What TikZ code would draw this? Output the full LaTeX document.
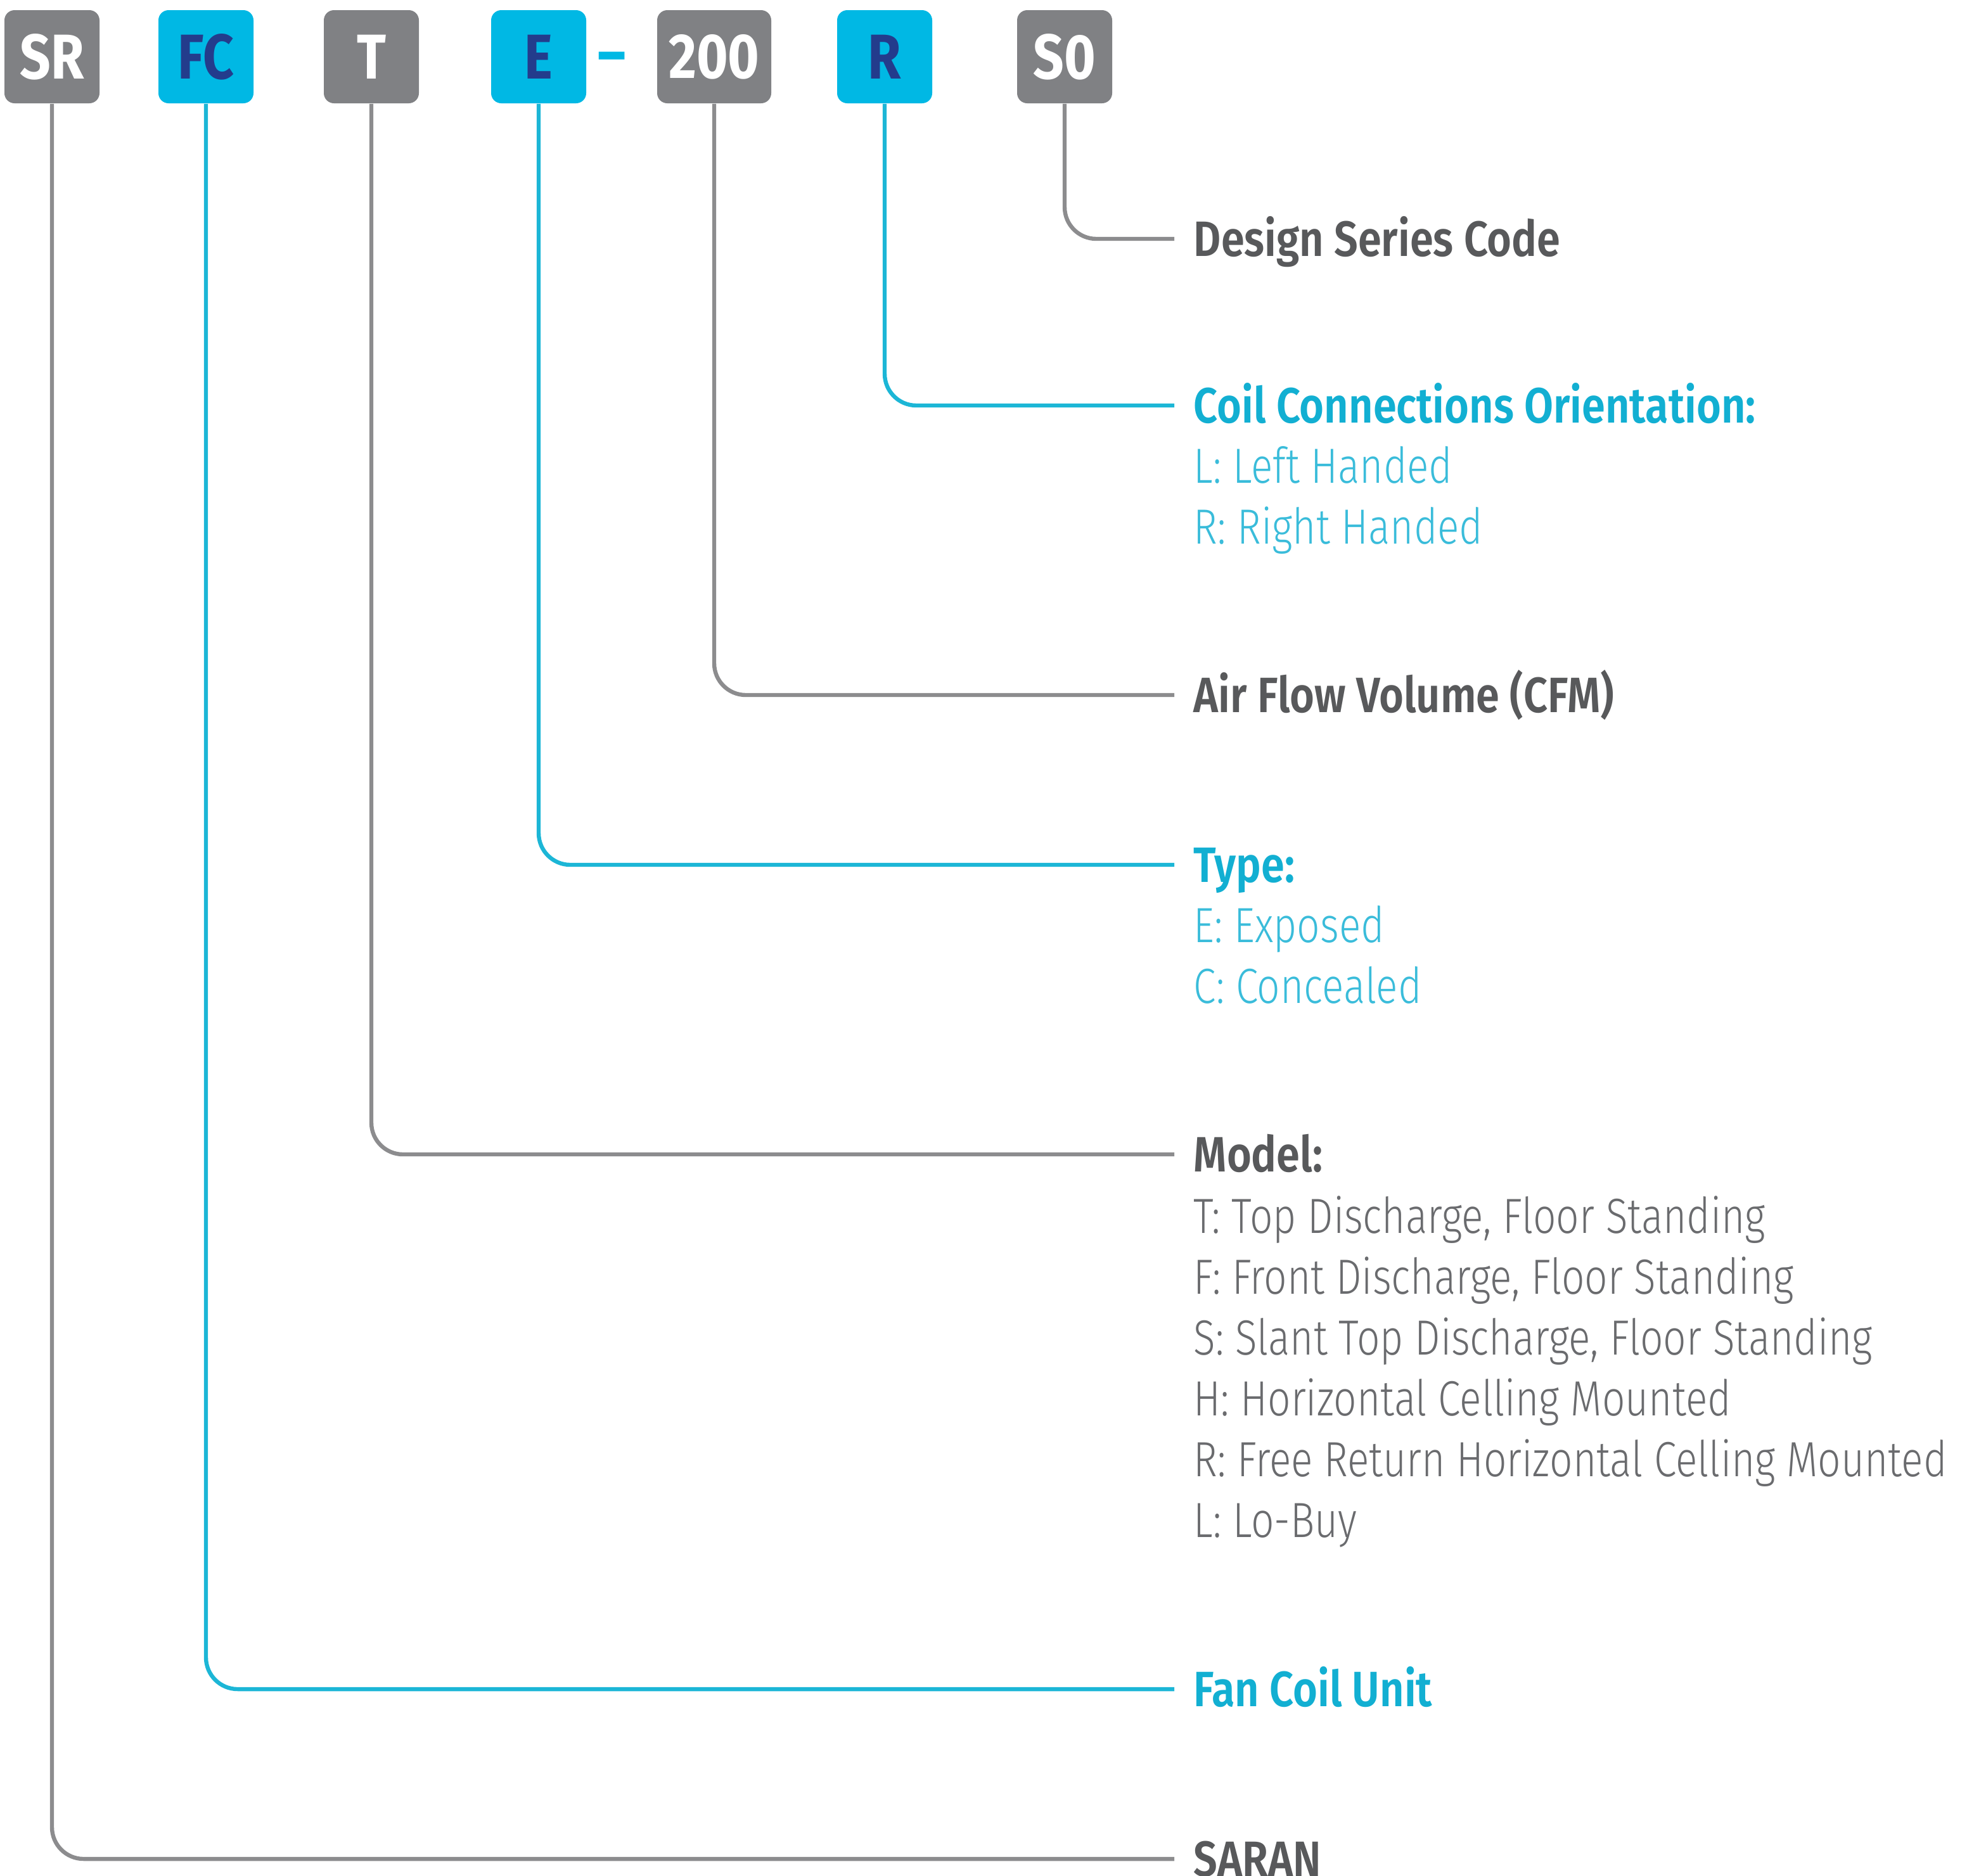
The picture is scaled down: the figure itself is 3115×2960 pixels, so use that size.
\documentclass[tikz,border=0pt]{standalone}
\usepackage{fontspec}
\setmainfont[FakeStretch=0.85]{Fira Sans}
\newfontfamily\semib[FakeStretch=0.85]{Fira Sans SemiBold}
\newfontfamily\lightf[FakeStretch=0.82]{Fira Sans Light}
\definecolor{boxgray}{HTML}{808184}
\definecolor{boxcyan}{HTML}{00B8E4}
\definecolor{navy}{HTML}{233C8C}
\definecolor{linegray}{HTML}{8C8C8E}
\definecolor{linecyan}{HTML}{1CB6D6}
\definecolor{titlegray}{HTML}{58595B}
\definecolor{subgray}{HTML}{6A6B6E}
\definecolor{titlecyan}{HTML}{12AFD2}
\definecolor{subcyan}{HTML}{3ABCDA}
\tikzset{
  codebox/.style={rounded corners=4pt, minimum height=36.75pt, minimum width=37.5pt, inner sep=0pt,
    font=\fontsize{25}{30}\selectfont\bfseries},
  graybox/.style={codebox, fill=boxgray, text=white},
  cyanbox/.style={codebox, fill=boxcyan, text=navy},
  gline/.style={draw=linegray, line width=1.6pt, rounded corners=12.5pt},
  cline/.style={draw=linecyan, line width=1.6pt, rounded corners=12.5pt},
  ttl/.style={anchor=west, inner xsep=7.5pt, inner ysep=0pt, text height=13.5pt, text depth=0pt,
    font=\fontsize{19.6}{24}\semib},
  gttl/.style={ttl, text=titlegray},
  cttl/.style={ttl, text=titlecyan},
  sub/.style={anchor=base west, inner sep=0pt, font=\fontsize{19.5}{24}\lightf},
  gsub/.style={sub, text=subgray},
  csub/.style={sub, text=subcyan},
}
\begin{document}
\begin{tikzpicture}[x=0.25pt, y=-0.25pt]
\useasboundingbox (0,0) rectangle (3115,2960);
% code boxes
\node[graybox] (SR) at (82,89.5) {SR};
\node[cyanbox] (FC) at (325,89.5) {FC};
\node[graybox] (T) at (586,89.5) {T};
\node[cyanbox] (E) at (850,89.5) {E};
\node[text=boxcyan, inner sep=0pt, font=\fontsize{25}{30}\selectfont\bfseries] (dash) at (966,101) {–};
\node[graybox, minimum width=45pt] (V) at (1127,89.5) {200};
\node[cyanbox] (R) at (1396,89.5) {R};
\node[graybox] (S0) at (1680,89.5) {S0};
% titles
\node[gttl] (dsc) at (1853,377) {Design Series Code};
\node[cttl] (coil) at (1853,640) {Coil Connections Orientation:};
\node[csub] (coilL) at (1883,762) {L: Left Handed};
\node[csub] (coilR) at (1883,858) {R: Right Handed};
\node[gttl] (air) at (1853,1097) {Air Flow Volume (CFM)};
\node[cttl] (type) at (1853,1365) {Type:};
\node[csub] (typeE) at (1883,1487) {E: Exposed};
\node[csub] (typeC) at (1883,1583) {C: Concealed};
\node[gttl] (model) at (1853,1822) {Model:};
\node[gsub] (m1) at (1883,1946) {T: Top Discharge, Floor Standing};
\node[gsub] (m2) at (1883,2042) {F: Front Discharge, Floor Standing};
\node[gsub] (m3) at (1883,2138) {S: Slant Top Discharge, Floor Standing};
\node[gsub] (m4) at (1883,2234) {H: Horizontal Celling Mounted};
\node[gsub] (m5) at (1883,2330) {R: Free Return Horizontal Celling Mounted};
\node[gsub] (m6) at (1883,2426) {L: Lo-Buy};
\node[cttl] (fcu) at (1853,2666) {Fan Coil Unit};
\node[gttl] (saran) at (1853,2934) {SARAN};
% connectors
\draw[gline] (S0.south) |- (dsc.west);
\draw[cline] (R.south) |- (coil.west);
\draw[gline] (V.south) |- (air.west);
\draw[cline] (E.south) |- (type.west);
\draw[gline] (T.south) |- (model.west);
\draw[cline] (FC.south) |- (fcu.west);
\draw[gline] (SR.south) |- (saran.west);
\end{tikzpicture}
\end{document}
